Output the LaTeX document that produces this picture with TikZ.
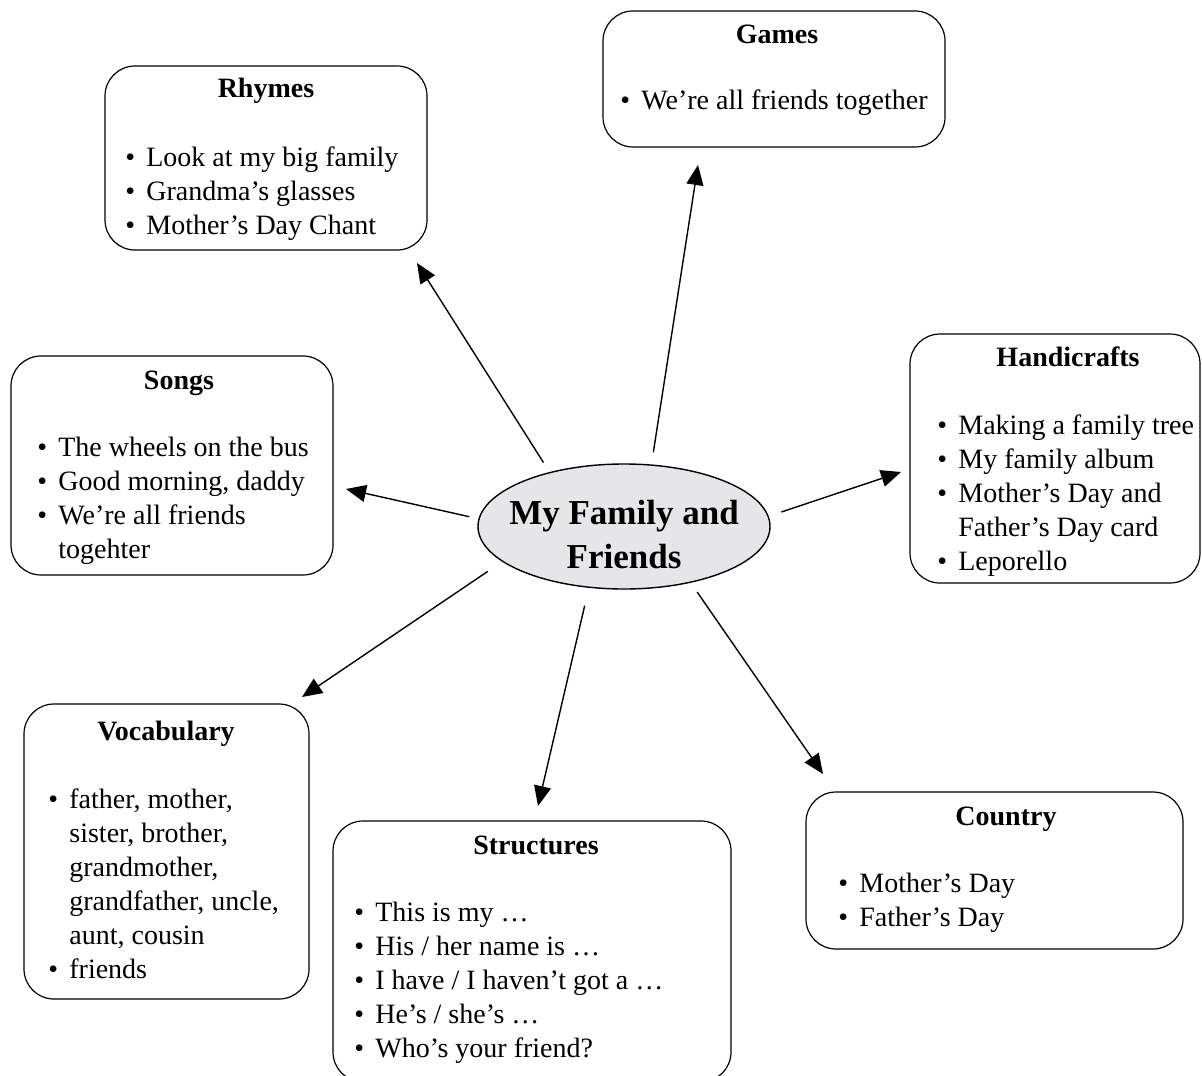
\documentclass[tikz,border=0pt]{standalone}
\usepackage{fontspec}
\setmainfont{Liberation Serif}
\usetikzlibrary{shapes.geometric,arrows.meta}
\definecolor{hubgray}{RGB}{230,230,232}
\newcommand{\bul}{\makebox[10.5pt][l]{\textbullet}}
\newcommand{\ind}{\hspace*{10.5pt}}

\begin{document}
\begin{tikzpicture}[x=0.5pt,y=-0.5pt,
	topic/.style={draw, rounded corners=15pt, line width=0.6pt, inner sep=0pt, outer sep=0pt, anchor=north west},
	title/.style={inner sep=0pt, anchor=base, font=\bfseries\fontsize{14}{17}\selectfont},
	list/.style={inner sep=0pt, anchor=base west, text width=200pt, align=flush left, font=\fontsize{14}{17}\selectfont},
	arr/.style={line width=0.7pt, -{Triangle[length=10pt,width=8.5pt]}}]

	\useasboundingbox (0,0) rectangle (1202,1075);

	% centre
	\node[ellipse, draw, line width=0.7pt, fill=hubgray, minimum width=146pt, minimum height=62.5pt, inner sep=0pt, outer sep=0pt] (hub) at (624,526.5) {};
	\node[inner sep=0pt, anchor=base, text width=150pt, align=flush center, font=\bfseries\fontsize{17.5}{22}\selectfont] (hubtext) at (624,524) {My Family and\\Friends};

	% boxes
	\node[topic, minimum width=161pt, minimum height=92pt] (rhymes) at (105,66) {};
	\node[title] (rhymesTitle) at (266,98) {Rhymes};
	\node[list] (rhymesList) at (125,167) {\bul Look at my big family\\\bul Grandma’s glasses\\\bul Mother’s Day Chant};

	\node[topic, minimum width=171pt, minimum height=68pt] (games) at (603,11) {};
	\node[title] (gamesTitle) at (777,44) {Games};
	\node[list] (gamesList) at (620,110) {\bul We’re all friends together};

	\node[topic, minimum width=161pt, minimum height=109.5pt] (songs) at (11,356) {};
	\node[title] (songsTitle) at (179,389) {Songs};
	\node[list] (songsList) at (37,456) {\bul The wheels on the bus\\\bul Good morning, daddy\\\bul We’re all friends\\\ind togehter};

	\node[topic, minimum width=145pt, minimum height=124.5pt] (handicrafts) at (910,334) {};
	\node[title] (handicraftsTitle) at (1068,366.5) {Handicrafts};
	\node[list] (handicraftsList) at (937,434.5) {\bul Making a family tree\\\bul My family album\\\bul Mother’s Day and\\\ind Father’s Day card\\\bul Leporello};

	\node[topic, minimum width=142.5pt, minimum height=147.5pt] (vocabulary) at (24,704) {};
	\node[title] (vocabularyTitle) at (166,740) {Vocabulary};
	\node[list] (vocabularyList) at (48,808) {\bul father, mother,\\\ind sister, brother,\\\ind grandmother,\\\ind grandfather, uncle,\\\ind aunt, cousin\\\bul friends};

	\node[topic, minimum width=199pt, minimum height=130.5pt] (structures) at (333,821) {};
	\node[title] (structuresTitle) at (536,854.5) {Structures};
	\node[list] (structuresList) at (354,921.5) {\bul This is my …\\\bul His / her name is …\\\bul I have / I haven’t got a …\\\bul He’s / she’s …\\\bul Who’s your friend?};

	\node[topic, minimum width=188.5pt, minimum height=78.5pt] (country) at (806,792) {};
	\node[title] (countryTitle) at (1006,825.5) {Country};
	\node[list] (countryList) at (838,892.5) {\bul Mother’s Day\\\bul Father’s Day};

	% arrow tips
	\coordinate (rhymesTip) at (417,263);
	\coordinate (gamesTip) at (698,165);
	\coordinate (songsTip) at (346,489);
	\coordinate (handicraftsTip) at (901,472);
	\coordinate (vocabularyTip) at (302,697);
	\coordinate (structuresTip) at (538,806);
	\coordinate (countryTip) at (823,774);

	\draw[arr, shorten <=6pt] (hub.144.5) -- (rhymesTip);
	\draw[arr, shorten <=6.5pt] (hub.66) -- (gamesTip);
	\draw[arr, shorten <=5pt] (hub.177) -- (songsTip);
	\draw[arr, shorten <=7pt] (hub.4.5) -- (handicraftsTip);
	\draw[arr, shorten <=9pt] (hub.196) -- (vocabularyTip);
	\draw[arr, shorten <=9.5pt] (hub.240) -- (structuresTip);
	\draw[arr, shorten <=6pt] (hub.320) -- (countryTip);
\end{tikzpicture}
\end{document}
